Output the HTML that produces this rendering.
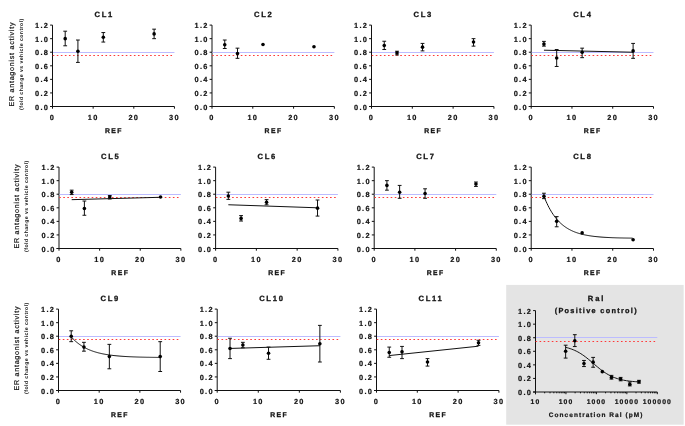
<!DOCTYPE html>
<html><head><meta charset="utf-8"><title>ER antagonist activity</title><style>html,body{margin:0;padding:0;background:#fff;width:685px;height:426px;overflow:hidden}svg{display:block}</style></head><body>
<svg width="685" height="426" viewBox="0 0 685 426">
<style>text{text-rendering:geometricPrecision}.t{font-family:"Liberation Sans",sans-serif;font-weight:bold;font-size:7.4px;letter-spacing:1.3px;fill:#111;stroke:#111;stroke-width:0.2px}.ti{font-family:"Liberation Sans",sans-serif;font-weight:bold;font-size:7.6px;letter-spacing:1.7px;fill:#111;stroke:#111;stroke-width:0.3px}.yl{font-family:"Liberation Sans",sans-serif;font-size:7.1px;letter-spacing:0.75px;fill:#111;stroke:#111;stroke-width:0.2px}.ys{font-family:"Liberation Sans",sans-serif;font-weight:bold;font-size:5.2px;letter-spacing:0.43px;fill:#111}</style>
<rect x="0" y="0" width="685" height="426" fill="#fff"/>
<rect x="506.2" y="284.9" width="177.45" height="139.8" fill="#e4e4e4"/>
<g stroke="#111" stroke-width="1" fill="none">
<line x1="52.5" y1="25.1" x2="52.5" y2="108.7"/>
<line x1="50.1" y1="106.5" x2="174.45" y2="106.5"/>
<line x1="93.15" y1="106.5" x2="93.15" y2="108.7"/>
<line x1="133.8" y1="106.5" x2="133.8" y2="108.7"/>
<line x1="174.45" y1="106.5" x2="174.45" y2="108.7"/>
<line x1="50.1" y1="106.5" x2="52.5" y2="106.5"/>
<line x1="50.1" y1="92.93" x2="52.5" y2="92.93"/>
<line x1="50.1" y1="79.37" x2="52.5" y2="79.37"/>
<line x1="50.1" y1="65.8" x2="52.5" y2="65.8"/>
<line x1="50.1" y1="52.23" x2="52.5" y2="52.23"/>
<line x1="50.1" y1="38.67" x2="52.5" y2="38.67"/>
<line x1="50.1" y1="25.1" x2="52.5" y2="25.1"/>
</g>
<line x1="53" y1="52.5" x2="174.45" y2="52.5" stroke="#bcbcff" stroke-width="1"/>
<line x1="52.7" y1="55.5" x2="174.45" y2="55.5" stroke="#ff3838" stroke-width="1.2" stroke-dasharray="1.6 2.46"/>
<g stroke="#111" stroke-width="1"><line x1="65.2" y1="31.2" x2="65.2" y2="45.79"/><line x1="63.3" y1="31.2" x2="67.1" y2="31.2"/><line x1="63.3" y1="45.79" x2="67.1" y2="45.79"/></g>
<circle cx="65.2" cy="38.67" r="1.8" fill="#000"/>
<g stroke="#111" stroke-width="1"><line x1="77.91" y1="40.02" x2="77.91" y2="62.41"/><line x1="76.01" y1="40.02" x2="79.81" y2="40.02"/><line x1="76.01" y1="62.41" x2="79.81" y2="62.41"/></g>
<circle cx="77.91" cy="51.22" r="1.8" fill="#000"/>
<g stroke="#111" stroke-width="1"><line x1="103.31" y1="32.56" x2="103.31" y2="42.06"/><line x1="101.41" y1="32.56" x2="105.21" y2="32.56"/><line x1="101.41" y1="42.06" x2="105.21" y2="42.06"/></g>
<circle cx="103.31" cy="37.31" r="1.8" fill="#000"/>
<g stroke="#111" stroke-width="1"><line x1="154.12" y1="29.17" x2="154.12" y2="38.67"/><line x1="152.22" y1="29.17" x2="156.03" y2="29.17"/><line x1="152.22" y1="38.67" x2="156.03" y2="38.67"/></g>
<circle cx="154.12" cy="33.92" r="1.8" fill="#000"/>
<g stroke="#111" stroke-width="1" fill="none">
<line x1="212" y1="25.1" x2="212" y2="108.7"/>
<line x1="209.6" y1="106.5" x2="334.37" y2="106.5"/>
<line x1="252.79" y1="106.5" x2="252.79" y2="108.7"/>
<line x1="293.58" y1="106.5" x2="293.58" y2="108.7"/>
<line x1="334.37" y1="106.5" x2="334.37" y2="108.7"/>
<line x1="209.6" y1="106.5" x2="212" y2="106.5"/>
<line x1="209.6" y1="92.93" x2="212" y2="92.93"/>
<line x1="209.6" y1="79.37" x2="212" y2="79.37"/>
<line x1="209.6" y1="65.8" x2="212" y2="65.8"/>
<line x1="209.6" y1="52.23" x2="212" y2="52.23"/>
<line x1="209.6" y1="38.67" x2="212" y2="38.67"/>
<line x1="209.6" y1="25.1" x2="212" y2="25.1"/>
</g>
<line x1="212.5" y1="52.5" x2="334.37" y2="52.5" stroke="#bcbcff" stroke-width="1"/>
<line x1="212.2" y1="55.5" x2="334.37" y2="55.5" stroke="#ff3838" stroke-width="1.2" stroke-dasharray="1.6 2.48"/>
<g stroke="#111" stroke-width="1"><line x1="224.75" y1="40.02" x2="224.75" y2="48.5"/><line x1="222.85" y1="40.02" x2="226.65" y2="40.02"/><line x1="222.85" y1="48.5" x2="226.65" y2="48.5"/></g>
<circle cx="224.75" cy="44.77" r="1.8" fill="#000"/>
<g stroke="#111" stroke-width="1"><line x1="237.49" y1="48.16" x2="237.49" y2="58.34"/><line x1="235.59" y1="48.16" x2="239.39" y2="48.16"/><line x1="235.59" y1="58.34" x2="239.39" y2="58.34"/></g>
<circle cx="237.49" cy="53.59" r="1.8" fill="#000"/>
<circle cx="262.99" cy="44.43" r="1.8" fill="#000"/>
<circle cx="313.98" cy="46.81" r="1.8" fill="#000"/>
<g stroke="#111" stroke-width="1" fill="none">
<line x1="371.5" y1="25.1" x2="371.5" y2="108.7"/>
<line x1="369.1" y1="106.5" x2="493.93" y2="106.5"/>
<line x1="412.31" y1="106.5" x2="412.31" y2="108.7"/>
<line x1="453.12" y1="106.5" x2="453.12" y2="108.7"/>
<line x1="493.93" y1="106.5" x2="493.93" y2="108.7"/>
<line x1="369.1" y1="106.5" x2="371.5" y2="106.5"/>
<line x1="369.1" y1="92.93" x2="371.5" y2="92.93"/>
<line x1="369.1" y1="79.37" x2="371.5" y2="79.37"/>
<line x1="369.1" y1="65.8" x2="371.5" y2="65.8"/>
<line x1="369.1" y1="52.23" x2="371.5" y2="52.23"/>
<line x1="369.1" y1="38.67" x2="371.5" y2="38.67"/>
<line x1="369.1" y1="25.1" x2="371.5" y2="25.1"/>
</g>
<line x1="372" y1="52.5" x2="493.93" y2="52.5" stroke="#bcbcff" stroke-width="1"/>
<line x1="371.7" y1="55.5" x2="493.93" y2="55.5" stroke="#ff3838" stroke-width="1.2" stroke-dasharray="1.6 2.48"/>
<g stroke="#111" stroke-width="1"><line x1="384.25" y1="41.24" x2="384.25" y2="49.52"/><line x1="382.35" y1="41.24" x2="386.15" y2="41.24"/><line x1="382.35" y1="49.52" x2="386.15" y2="49.52"/></g>
<circle cx="384.25" cy="45.45" r="1.8" fill="#000"/>
<g stroke="#111" stroke-width="1"><line x1="397.01" y1="51.22" x2="397.01" y2="54.95"/><line x1="395.11" y1="51.22" x2="398.91" y2="51.22"/><line x1="395.11" y1="54.95" x2="398.91" y2="54.95"/></g>
<circle cx="397.01" cy="52.91" r="1.8" fill="#000"/>
<g stroke="#111" stroke-width="1"><line x1="422.51" y1="43.41" x2="422.51" y2="50.88"/><line x1="420.61" y1="43.41" x2="424.41" y2="43.41"/><line x1="420.61" y1="50.88" x2="424.41" y2="50.88"/></g>
<circle cx="422.51" cy="47.15" r="1.8" fill="#000"/>
<g stroke="#111" stroke-width="1"><line x1="473.52" y1="38.67" x2="473.52" y2="46.13"/><line x1="471.62" y1="38.67" x2="475.42" y2="38.67"/><line x1="471.62" y1="46.13" x2="475.42" y2="46.13"/></g>
<circle cx="473.52" cy="42.06" r="1.8" fill="#000"/>
<g stroke="#111" stroke-width="1" fill="none">
<line x1="531.2" y1="25.1" x2="531.2" y2="108.7"/>
<line x1="528.8" y1="106.5" x2="653.49" y2="106.5"/>
<line x1="571.96" y1="106.5" x2="571.96" y2="108.7"/>
<line x1="612.73" y1="106.5" x2="612.73" y2="108.7"/>
<line x1="653.49" y1="106.5" x2="653.49" y2="108.7"/>
<line x1="528.8" y1="106.5" x2="531.2" y2="106.5"/>
<line x1="528.8" y1="92.93" x2="531.2" y2="92.93"/>
<line x1="528.8" y1="79.37" x2="531.2" y2="79.37"/>
<line x1="528.8" y1="65.8" x2="531.2" y2="65.8"/>
<line x1="528.8" y1="52.23" x2="531.2" y2="52.23"/>
<line x1="528.8" y1="38.67" x2="531.2" y2="38.67"/>
<line x1="528.8" y1="25.1" x2="531.2" y2="25.1"/>
</g>
<line x1="531.7" y1="52.5" x2="653.49" y2="52.5" stroke="#bcbcff" stroke-width="1"/>
<line x1="531.4" y1="55.5" x2="653.49" y2="55.5" stroke="#ff3838" stroke-width="1.2" stroke-dasharray="1.6 2.48"/>
<line x1="543.94" y1="50.2" x2="633.11" y2="52.23" stroke="#111" stroke-width="1"/>
<g stroke="#111" stroke-width="1"><line x1="543.94" y1="41.38" x2="543.94" y2="46.13"/><line x1="542.04" y1="41.38" x2="545.84" y2="41.38"/><line x1="542.04" y1="46.13" x2="545.84" y2="46.13"/></g>
<circle cx="543.94" cy="44.09" r="1.8" fill="#000"/>
<g stroke="#111" stroke-width="1"><line x1="556.68" y1="49.52" x2="556.68" y2="66.48"/><line x1="554.78" y1="49.52" x2="558.58" y2="49.52"/><line x1="554.78" y1="66.48" x2="558.58" y2="66.48"/></g>
<circle cx="556.68" cy="58" r="1.8" fill="#000"/>
<g stroke="#111" stroke-width="1"><line x1="582.15" y1="48.16" x2="582.15" y2="57.66"/><line x1="580.25" y1="48.16" x2="584.05" y2="48.16"/><line x1="580.25" y1="57.66" x2="584.05" y2="57.66"/></g>
<circle cx="582.15" cy="52.23" r="1.8" fill="#000"/>
<g stroke="#111" stroke-width="1"><line x1="633.11" y1="43.41" x2="633.11" y2="58.34"/><line x1="631.21" y1="43.41" x2="635.01" y2="43.41"/><line x1="631.21" y1="58.34" x2="635.01" y2="58.34"/></g>
<circle cx="633.11" cy="50.88" r="1.8" fill="#000"/>
<g stroke="#111" stroke-width="1" fill="none">
<line x1="59" y1="167.1" x2="59" y2="250.7"/>
<line x1="56.6" y1="248.5" x2="180.86" y2="248.5"/>
<line x1="99.62" y1="248.5" x2="99.62" y2="250.7"/>
<line x1="140.24" y1="248.5" x2="140.24" y2="250.7"/>
<line x1="180.86" y1="248.5" x2="180.86" y2="250.7"/>
<line x1="56.6" y1="248.5" x2="59" y2="248.5"/>
<line x1="56.6" y1="234.93" x2="59" y2="234.93"/>
<line x1="56.6" y1="221.37" x2="59" y2="221.37"/>
<line x1="56.6" y1="207.8" x2="59" y2="207.8"/>
<line x1="56.6" y1="194.23" x2="59" y2="194.23"/>
<line x1="56.6" y1="180.67" x2="59" y2="180.67"/>
<line x1="56.6" y1="167.1" x2="59" y2="167.1"/>
</g>
<line x1="59.5" y1="194.5" x2="180.86" y2="194.5" stroke="#bcbcff" stroke-width="1"/>
<line x1="59.2" y1="197.5" x2="180.86" y2="197.5" stroke="#ff3838" stroke-width="1.2" stroke-dasharray="1.6 2.46"/>
<line x1="71.69" y1="199.66" x2="160.55" y2="197.29" stroke="#111" stroke-width="1"/>
<g stroke="#111" stroke-width="1"><line x1="71.69" y1="190.16" x2="71.69" y2="194.57"/><line x1="69.79" y1="190.16" x2="73.59" y2="190.16"/><line x1="69.79" y1="194.57" x2="73.59" y2="194.57"/></g>
<circle cx="71.69" cy="192.2" r="1.8" fill="#000"/>
<g stroke="#111" stroke-width="1"><line x1="84.39" y1="201.02" x2="84.39" y2="215.26"/><line x1="82.49" y1="201.02" x2="86.29" y2="201.02"/><line x1="82.49" y1="215.26" x2="86.29" y2="215.26"/></g>
<circle cx="84.39" cy="208.48" r="1.8" fill="#000"/>
<g stroke="#111" stroke-width="1"><line x1="109.78" y1="195.59" x2="109.78" y2="198.98"/><line x1="107.88" y1="195.59" x2="111.68" y2="195.59"/><line x1="107.88" y1="198.98" x2="111.68" y2="198.98"/></g>
<circle cx="109.78" cy="196.95" r="1.8" fill="#000"/>
<circle cx="160.55" cy="196.95" r="1.8" fill="#000"/>
<g stroke="#111" stroke-width="1" fill="none">
<line x1="215.6" y1="167.1" x2="215.6" y2="250.7"/>
<line x1="213.2" y1="248.5" x2="337.92" y2="248.5"/>
<line x1="256.37" y1="248.5" x2="256.37" y2="250.7"/>
<line x1="297.15" y1="248.5" x2="297.15" y2="250.7"/>
<line x1="337.92" y1="248.5" x2="337.92" y2="250.7"/>
<line x1="213.2" y1="248.5" x2="215.6" y2="248.5"/>
<line x1="213.2" y1="234.93" x2="215.6" y2="234.93"/>
<line x1="213.2" y1="221.37" x2="215.6" y2="221.37"/>
<line x1="213.2" y1="207.8" x2="215.6" y2="207.8"/>
<line x1="213.2" y1="194.23" x2="215.6" y2="194.23"/>
<line x1="213.2" y1="180.67" x2="215.6" y2="180.67"/>
<line x1="213.2" y1="167.1" x2="215.6" y2="167.1"/>
</g>
<line x1="216.1" y1="194.5" x2="337.92" y2="194.5" stroke="#bcbcff" stroke-width="1"/>
<line x1="215.8" y1="197.5" x2="337.92" y2="197.5" stroke="#ff3838" stroke-width="1.2" stroke-dasharray="1.6 2.48"/>
<line x1="228.34" y1="204.75" x2="317.53" y2="207.8" stroke="#111" stroke-width="1"/>
<g stroke="#111" stroke-width="1"><line x1="228.34" y1="192.2" x2="228.34" y2="199.39"/><line x1="226.44" y1="192.2" x2="230.24" y2="192.2"/><line x1="226.44" y1="199.39" x2="230.24" y2="199.39"/></g>
<circle cx="228.34" cy="195.93" r="1.8" fill="#000"/>
<g stroke="#111" stroke-width="1"><line x1="241.08" y1="215.6" x2="241.08" y2="221.03"/><line x1="239.18" y1="215.6" x2="242.98" y2="215.6"/><line x1="239.18" y1="221.03" x2="242.98" y2="221.03"/></g>
<circle cx="241.08" cy="218.38" r="1.8" fill="#000"/>
<g stroke="#111" stroke-width="1"><line x1="266.57" y1="199.66" x2="266.57" y2="204.75"/><line x1="264.67" y1="199.66" x2="268.47" y2="199.66"/><line x1="264.67" y1="204.75" x2="268.47" y2="204.75"/></g>
<circle cx="266.57" cy="202.37" r="1.8" fill="#000"/>
<g stroke="#111" stroke-width="1"><line x1="317.53" y1="200" x2="317.53" y2="216.08"/><line x1="315.63" y1="200" x2="319.43" y2="200"/><line x1="315.63" y1="216.08" x2="319.43" y2="216.08"/></g>
<circle cx="317.53" cy="208.14" r="1.8" fill="#000"/>
<g stroke="#111" stroke-width="1" fill="none">
<line x1="374.2" y1="167.1" x2="374.2" y2="250.7"/>
<line x1="371.8" y1="248.5" x2="496.29" y2="248.5"/>
<line x1="414.9" y1="248.5" x2="414.9" y2="250.7"/>
<line x1="455.59" y1="248.5" x2="455.59" y2="250.7"/>
<line x1="496.29" y1="248.5" x2="496.29" y2="250.7"/>
<line x1="371.8" y1="248.5" x2="374.2" y2="248.5"/>
<line x1="371.8" y1="234.93" x2="374.2" y2="234.93"/>
<line x1="371.8" y1="221.37" x2="374.2" y2="221.37"/>
<line x1="371.8" y1="207.8" x2="374.2" y2="207.8"/>
<line x1="371.8" y1="194.23" x2="374.2" y2="194.23"/>
<line x1="371.8" y1="180.67" x2="374.2" y2="180.67"/>
<line x1="371.8" y1="167.1" x2="374.2" y2="167.1"/>
</g>
<line x1="374.7" y1="194.5" x2="496.29" y2="194.5" stroke="#bcbcff" stroke-width="1"/>
<line x1="374.4" y1="197.5" x2="496.29" y2="197.5" stroke="#ff3838" stroke-width="1.2" stroke-dasharray="1.6 2.47"/>
<g stroke="#111" stroke-width="1"><line x1="386.92" y1="180.67" x2="386.92" y2="190.16"/><line x1="385.02" y1="180.67" x2="388.82" y2="180.67"/><line x1="385.02" y1="190.16" x2="388.82" y2="190.16"/></g>
<circle cx="386.92" cy="185.41" r="1.8" fill="#000"/>
<g stroke="#111" stroke-width="1"><line x1="399.64" y1="185.41" x2="399.64" y2="198.3"/><line x1="397.74" y1="185.41" x2="401.54" y2="185.41"/><line x1="397.74" y1="198.3" x2="401.54" y2="198.3"/></g>
<circle cx="399.64" cy="192.2" r="1.8" fill="#000"/>
<g stroke="#111" stroke-width="1"><line x1="425.07" y1="188.81" x2="425.07" y2="198.3"/><line x1="423.17" y1="188.81" x2="426.97" y2="188.81"/><line x1="423.17" y1="198.3" x2="426.97" y2="198.3"/></g>
<circle cx="425.07" cy="193.55" r="1.8" fill="#000"/>
<g stroke="#111" stroke-width="1"><line x1="475.94" y1="182.02" x2="475.94" y2="186.43"/><line x1="474.04" y1="182.02" x2="477.84" y2="182.02"/><line x1="474.04" y1="186.43" x2="477.84" y2="186.43"/></g>
<circle cx="475.94" cy="184.06" r="1.8" fill="#000"/>
<g stroke="#111" stroke-width="1" fill="none">
<line x1="531.2" y1="167.1" x2="531.2" y2="250.7"/>
<line x1="528.8" y1="248.5" x2="653.49" y2="248.5"/>
<line x1="571.96" y1="248.5" x2="571.96" y2="250.7"/>
<line x1="612.73" y1="248.5" x2="612.73" y2="250.7"/>
<line x1="653.49" y1="248.5" x2="653.49" y2="250.7"/>
<line x1="528.8" y1="248.5" x2="531.2" y2="248.5"/>
<line x1="528.8" y1="234.93" x2="531.2" y2="234.93"/>
<line x1="528.8" y1="221.37" x2="531.2" y2="221.37"/>
<line x1="528.8" y1="207.8" x2="531.2" y2="207.8"/>
<line x1="528.8" y1="194.23" x2="531.2" y2="194.23"/>
<line x1="528.8" y1="180.67" x2="531.2" y2="180.67"/>
<line x1="528.8" y1="167.1" x2="531.2" y2="167.1"/>
</g>
<line x1="531.7" y1="194.5" x2="653.49" y2="194.5" stroke="#bcbcff" stroke-width="1"/>
<line x1="531.4" y1="197.5" x2="653.49" y2="197.5" stroke="#ff3838" stroke-width="1.2" stroke-dasharray="1.6 2.48"/>
<polyline points="543.94,196.27 544.96,198.82 545.98,201.21 547,203.46 548.01,205.57 549.03,207.56 550.05,209.42 551.07,211.17 552.09,212.82 553.11,214.36 554.13,215.81 555.15,217.18 556.17,218.46 557.19,219.66 558.21,220.79 559.22,221.86 560.24,222.85 561.26,223.79 562.28,224.67 563.3,225.5 564.32,226.28 565.34,227.01 566.36,227.69 567.38,228.34 568.4,228.94 569.42,229.51 570.43,230.04 571.45,230.55 572.47,231.02 573.49,231.46 574.51,231.88 575.53,232.27 576.55,232.63 577.57,232.98 578.59,233.3 579.61,233.61 580.63,233.89 581.64,234.16 582.66,234.41 583.68,234.65 584.7,234.87 585.72,235.08 586.74,235.28 587.76,235.46 588.78,235.64 589.8,235.8 590.82,235.95 591.84,236.1 592.85,236.23 593.87,236.36 594.89,236.48 595.91,236.59 596.93,236.69 597.95,236.79 598.97,236.89 599.99,236.97 601.01,237.05 602.03,237.13 603.05,237.2 604.06,237.27 605.08,237.34 606.1,237.4 607.12,237.45 608.14,237.51 609.16,237.55 610.18,237.6 611.2,237.65 612.22,237.69 613.24,237.73 614.26,237.76 615.27,237.8 616.29,237.83 617.31,237.86 618.33,237.89 619.35,237.91 620.37,237.94 621.39,237.96 622.41,237.98 623.43,238 624.45,238.02 625.47,238.04 626.48,238.06 627.5,238.07 628.52,238.09 629.54,238.1 630.56,238.12 631.58,238.13 632.6,238.14" fill="none" stroke="#111" stroke-width="1"/>
<g stroke="#111" stroke-width="1"><line x1="543.94" y1="193.22" x2="543.94" y2="198.64"/><line x1="542.04" y1="193.22" x2="545.84" y2="193.22"/><line x1="542.04" y1="198.64" x2="545.84" y2="198.64"/></g>
<circle cx="543.94" cy="196.27" r="1.8" fill="#000"/>
<g stroke="#111" stroke-width="1"><line x1="556.68" y1="216.62" x2="556.68" y2="226.79"/><line x1="554.78" y1="216.62" x2="558.58" y2="216.62"/><line x1="554.78" y1="226.79" x2="558.58" y2="226.79"/></g>
<circle cx="556.68" cy="221.37" r="1.8" fill="#000"/>
<circle cx="582.15" cy="232.9" r="1.8" fill="#000"/>
<circle cx="633.11" cy="239.68" r="1.8" fill="#000"/>
<g stroke="#111" stroke-width="1" fill="none">
<line x1="58.5" y1="309.1" x2="58.5" y2="392.7"/>
<line x1="56.1" y1="390.5" x2="180.55" y2="390.5"/>
<line x1="99.18" y1="390.5" x2="99.18" y2="392.7"/>
<line x1="139.87" y1="390.5" x2="139.87" y2="392.7"/>
<line x1="180.55" y1="390.5" x2="180.55" y2="392.7"/>
<line x1="56.1" y1="390.5" x2="58.5" y2="390.5"/>
<line x1="56.1" y1="376.93" x2="58.5" y2="376.93"/>
<line x1="56.1" y1="363.37" x2="58.5" y2="363.37"/>
<line x1="56.1" y1="349.8" x2="58.5" y2="349.8"/>
<line x1="56.1" y1="336.23" x2="58.5" y2="336.23"/>
<line x1="56.1" y1="322.67" x2="58.5" y2="322.67"/>
<line x1="56.1" y1="309.1" x2="58.5" y2="309.1"/>
</g>
<line x1="59" y1="336.5" x2="180.55" y2="336.5" stroke="#bcbcff" stroke-width="1"/>
<line x1="58.7" y1="339.5" x2="180.55" y2="339.5" stroke="#ff3838" stroke-width="1.2" stroke-dasharray="1.6 2.47"/>
<polyline points="71.21,336.91 72.23,338.02 73.25,339.07 74.26,340.06 75.28,341 76.3,341.89 77.32,342.73 78.33,343.52 79.35,344.28 80.37,344.99 81.38,345.66 82.4,346.3 83.42,346.91 84.44,347.48 85.45,348.02 86.47,348.53 87.49,349.02 88.5,349.48 89.52,349.91 90.54,350.32 91.56,350.71 92.57,351.08 93.59,351.43 94.61,351.76 95.62,352.07 96.64,352.37 97.66,352.65 98.67,352.91 99.69,353.17 100.71,353.4 101.73,353.63 102.74,353.84 103.76,354.04 104.78,354.23 105.79,354.41 106.81,354.58 107.83,354.74 108.85,354.9 109.86,355.04 110.88,355.18 111.9,355.31 112.91,355.43 113.93,355.55 114.95,355.66 115.97,355.76 116.98,355.86 118,355.95 119.02,356.04 120.03,356.12 121.05,356.2 122.07,356.28 123.08,356.35 124.1,356.42 125.12,356.48 126.14,356.54 127.15,356.6 128.17,356.65 129.19,356.7 130.2,356.75 131.22,356.79 132.24,356.84 133.26,356.88 134.27,356.92 135.29,356.95 136.31,356.99 137.32,357.02 138.34,357.05 139.36,357.08 140.38,357.11 141.39,357.14 142.41,357.16 143.43,357.18 144.44,357.21 145.46,357.23 146.48,357.25 147.49,357.27 148.51,357.28 149.53,357.3 150.55,357.32 151.56,357.33 152.58,357.35 153.6,357.36 154.61,357.37 155.63,357.39 156.65,357.4 157.67,357.41 158.68,357.42 159.7,357.43" fill="none" stroke="#111" stroke-width="1"/>
<g stroke="#111" stroke-width="1"><line x1="71.21" y1="330.81" x2="71.21" y2="341.66"/><line x1="69.31" y1="330.81" x2="73.11" y2="330.81"/><line x1="69.31" y1="341.66" x2="73.11" y2="341.66"/></g>
<circle cx="71.21" cy="336.23" r="1.8" fill="#000"/>
<g stroke="#111" stroke-width="1"><line x1="83.93" y1="342.34" x2="83.93" y2="351.16"/><line x1="82.03" y1="342.34" x2="85.83" y2="342.34"/><line x1="82.03" y1="351.16" x2="85.83" y2="351.16"/></g>
<circle cx="83.93" cy="347.09" r="1.8" fill="#000"/>
<g stroke="#111" stroke-width="1"><line x1="109.35" y1="344.37" x2="109.35" y2="368.79"/><line x1="107.45" y1="344.37" x2="111.25" y2="344.37"/><line x1="107.45" y1="368.79" x2="111.25" y2="368.79"/></g>
<circle cx="109.35" cy="356.58" r="1.8" fill="#000"/>
<g stroke="#111" stroke-width="1"><line x1="160.21" y1="341.66" x2="160.21" y2="371.51"/><line x1="158.31" y1="341.66" x2="162.11" y2="341.66"/><line x1="158.31" y1="371.51" x2="162.11" y2="371.51"/></g>
<circle cx="160.21" cy="356.58" r="1.8" fill="#000"/>
<g stroke="#111" stroke-width="1" fill="none">
<line x1="217.2" y1="309.1" x2="217.2" y2="392.7"/>
<line x1="214.8" y1="390.5" x2="340.4" y2="390.5"/>
<line x1="258.27" y1="390.5" x2="258.27" y2="392.7"/>
<line x1="299.33" y1="390.5" x2="299.33" y2="392.7"/>
<line x1="340.4" y1="390.5" x2="340.4" y2="392.7"/>
<line x1="214.8" y1="390.5" x2="217.2" y2="390.5"/>
<line x1="214.8" y1="376.93" x2="217.2" y2="376.93"/>
<line x1="214.8" y1="363.37" x2="217.2" y2="363.37"/>
<line x1="214.8" y1="349.8" x2="217.2" y2="349.8"/>
<line x1="214.8" y1="336.23" x2="217.2" y2="336.23"/>
<line x1="214.8" y1="322.67" x2="217.2" y2="322.67"/>
<line x1="214.8" y1="309.1" x2="217.2" y2="309.1"/>
</g>
<line x1="217.7" y1="336.5" x2="340.4" y2="336.5" stroke="#bcbcff" stroke-width="1"/>
<line x1="217.4" y1="339.5" x2="340.4" y2="339.5" stroke="#ff3838" stroke-width="1.2" stroke-dasharray="1.6 2.51"/>
<line x1="230.03" y1="348.44" x2="319.87" y2="345.73" stroke="#111" stroke-width="1"/>
<g stroke="#111" stroke-width="1"><line x1="230.03" y1="338.27" x2="230.03" y2="358.62"/><line x1="228.13" y1="338.27" x2="231.93" y2="338.27"/><line x1="228.13" y1="358.62" x2="231.93" y2="358.62"/></g>
<circle cx="230.03" cy="348.44" r="1.8" fill="#000"/>
<g stroke="#111" stroke-width="1"><line x1="242.87" y1="342.34" x2="242.87" y2="347.76"/><line x1="240.97" y1="342.34" x2="244.77" y2="342.34"/><line x1="240.97" y1="347.76" x2="244.77" y2="347.76"/></g>
<circle cx="242.87" cy="345.05" r="1.8" fill="#000"/>
<g stroke="#111" stroke-width="1"><line x1="268.53" y1="347.09" x2="268.53" y2="359.3"/><line x1="266.63" y1="347.09" x2="270.43" y2="347.09"/><line x1="266.63" y1="359.3" x2="270.43" y2="359.3"/></g>
<circle cx="268.53" cy="353.19" r="1.8" fill="#000"/>
<g stroke="#111" stroke-width="1"><line x1="319.87" y1="325.38" x2="319.87" y2="362.01"/><line x1="317.97" y1="325.38" x2="321.77" y2="325.38"/><line x1="317.97" y1="362.01" x2="321.77" y2="362.01"/></g>
<circle cx="319.87" cy="343.69" r="1.8" fill="#000"/>
<g stroke="#111" stroke-width="1" fill="none">
<line x1="376.5" y1="309.1" x2="376.5" y2="392.7"/>
<line x1="374.1" y1="390.5" x2="498.93" y2="390.5"/>
<line x1="417.31" y1="390.5" x2="417.31" y2="392.7"/>
<line x1="458.12" y1="390.5" x2="458.12" y2="392.7"/>
<line x1="498.93" y1="390.5" x2="498.93" y2="392.7"/>
<line x1="374.1" y1="390.5" x2="376.5" y2="390.5"/>
<line x1="374.1" y1="376.93" x2="376.5" y2="376.93"/>
<line x1="374.1" y1="363.37" x2="376.5" y2="363.37"/>
<line x1="374.1" y1="349.8" x2="376.5" y2="349.8"/>
<line x1="374.1" y1="336.23" x2="376.5" y2="336.23"/>
<line x1="374.1" y1="322.67" x2="376.5" y2="322.67"/>
<line x1="374.1" y1="309.1" x2="376.5" y2="309.1"/>
</g>
<line x1="377" y1="336.5" x2="498.93" y2="336.5" stroke="#bcbcff" stroke-width="1"/>
<line x1="376.7" y1="339.5" x2="498.93" y2="339.5" stroke="#ff3838" stroke-width="1.2" stroke-dasharray="1.6 2.48"/>
<line x1="389.25" y1="355.57" x2="478.52" y2="346.2" stroke="#111" stroke-width="1"/>
<g stroke="#111" stroke-width="1"><line x1="389.25" y1="347.09" x2="389.25" y2="357.26"/><line x1="387.35" y1="347.09" x2="391.15" y2="347.09"/><line x1="387.35" y1="357.26" x2="391.15" y2="357.26"/></g>
<circle cx="389.25" cy="352.51" r="1.8" fill="#000"/>
<g stroke="#111" stroke-width="1"><line x1="402.01" y1="346.41" x2="402.01" y2="358.62"/><line x1="400.11" y1="346.41" x2="403.91" y2="346.41"/><line x1="400.11" y1="358.62" x2="403.91" y2="358.62"/></g>
<circle cx="402.01" cy="351.83" r="1.8" fill="#000"/>
<g stroke="#111" stroke-width="1"><line x1="427.51" y1="358.62" x2="427.51" y2="366.08"/><line x1="425.61" y1="358.62" x2="429.41" y2="358.62"/><line x1="425.61" y1="366.08" x2="429.41" y2="366.08"/></g>
<circle cx="427.51" cy="362.01" r="1.8" fill="#000"/>
<g stroke="#111" stroke-width="1"><line x1="478.52" y1="340.3" x2="478.52" y2="345.39"/><line x1="476.62" y1="340.3" x2="480.42" y2="340.3"/><line x1="476.62" y1="345.39" x2="480.42" y2="345.39"/></g>
<circle cx="478.52" cy="342.68" r="1.8" fill="#000"/>
<g stroke="#111" stroke-width="1" fill="none">
<line x1="535.5" y1="310.6" x2="535.5" y2="394.2"/>
<line x1="533.1" y1="392" x2="657.3" y2="392"/>
<line x1="533.1" y1="392" x2="535.5" y2="392"/>
<line x1="533.1" y1="378.43" x2="535.5" y2="378.43"/>
<line x1="533.1" y1="364.87" x2="535.5" y2="364.87"/>
<line x1="533.1" y1="351.3" x2="535.5" y2="351.3"/>
<line x1="533.1" y1="337.73" x2="535.5" y2="337.73"/>
<line x1="533.1" y1="324.17" x2="535.5" y2="324.17"/>
<line x1="533.1" y1="310.6" x2="535.5" y2="310.6"/>
<line x1="535.5" y1="392" x2="535.5" y2="394.2"/>
<line x1="544.67" y1="392" x2="544.67" y2="393.3"/>
<line x1="550.03" y1="392" x2="550.03" y2="393.3"/>
<line x1="553.83" y1="392" x2="553.83" y2="393.3"/>
<line x1="556.78" y1="392" x2="556.78" y2="393.3"/>
<line x1="559.19" y1="392" x2="559.19" y2="393.3"/>
<line x1="561.23" y1="392" x2="561.23" y2="393.3"/>
<line x1="563" y1="392" x2="563" y2="393.3"/>
<line x1="564.56" y1="392" x2="564.56" y2="393.3"/>
<line x1="565.95" y1="392" x2="565.95" y2="394.2"/>
<line x1="575.12" y1="392" x2="575.12" y2="393.3"/>
<line x1="580.48" y1="392" x2="580.48" y2="393.3"/>
<line x1="584.28" y1="392" x2="584.28" y2="393.3"/>
<line x1="587.23" y1="392" x2="587.23" y2="393.3"/>
<line x1="589.64" y1="392" x2="589.64" y2="393.3"/>
<line x1="591.68" y1="392" x2="591.68" y2="393.3"/>
<line x1="593.45" y1="392" x2="593.45" y2="393.3"/>
<line x1="595.01" y1="392" x2="595.01" y2="393.3"/>
<line x1="596.4" y1="392" x2="596.4" y2="394.2"/>
<line x1="605.57" y1="392" x2="605.57" y2="393.3"/>
<line x1="610.93" y1="392" x2="610.93" y2="393.3"/>
<line x1="614.73" y1="392" x2="614.73" y2="393.3"/>
<line x1="617.68" y1="392" x2="617.68" y2="393.3"/>
<line x1="620.09" y1="392" x2="620.09" y2="393.3"/>
<line x1="622.13" y1="392" x2="622.13" y2="393.3"/>
<line x1="623.9" y1="392" x2="623.9" y2="393.3"/>
<line x1="625.46" y1="392" x2="625.46" y2="393.3"/>
<line x1="626.85" y1="392" x2="626.85" y2="394.2"/>
<line x1="636.02" y1="392" x2="636.02" y2="393.3"/>
<line x1="641.38" y1="392" x2="641.38" y2="393.3"/>
<line x1="645.18" y1="392" x2="645.18" y2="393.3"/>
<line x1="648.13" y1="392" x2="648.13" y2="393.3"/>
<line x1="650.54" y1="392" x2="650.54" y2="393.3"/>
<line x1="652.58" y1="392" x2="652.58" y2="393.3"/>
<line x1="654.35" y1="392" x2="654.35" y2="393.3"/>
<line x1="655.91" y1="392" x2="655.91" y2="393.3"/>
<line x1="657.3" y1="392" x2="657.3" y2="394.2"/>
</g>
<line x1="536" y1="337.5" x2="657.3" y2="337.5" stroke="#bcbcff" stroke-width="1"/>
<line x1="535.5" y1="341.5" x2="657.3" y2="341.5" stroke="#ff3838" stroke-width="1.2" stroke-dasharray="1.6 2.47"/>
<polyline points="565.64,347.34 567.16,347.72 568.68,348.15 570.2,348.63 571.73,349.16 573.25,349.75 574.77,350.41 576.29,351.13 577.82,351.92 579.34,352.78 580.86,353.71 582.38,354.7 583.91,355.76 585.43,356.89 586.95,358.07 588.47,359.29 590,360.56 591.52,361.85 593.04,363.16 594.56,364.47 596.09,365.77 597.61,367.05 599.13,368.3 600.65,369.51 602.18,370.66 603.7,371.76 605.22,372.79 606.74,373.75 608.27,374.65 609.79,375.48 611.31,376.23 612.83,376.92 614.36,377.55 615.88,378.11 617.4,378.62 618.92,379.08 620.45,379.49 621.97,379.85 623.49,380.17 625.01,380.45 626.54,380.71 628.06,380.93 629.58,381.12 631.1,381.3 632.63,381.45 634.15,381.58 635.67,381.7 637.19,381.8 638.72,381.89" fill="none" stroke="#111" stroke-width="1"/>
<g stroke="#111" stroke-width="1"><line x1="565.64" y1="345.19" x2="565.64" y2="358.08"/><line x1="563.74" y1="345.19" x2="567.54" y2="345.19"/><line x1="563.74" y1="358.08" x2="567.54" y2="358.08"/></g>
<circle cx="565.64" cy="351.3" r="1.8" fill="#000"/>
<g stroke="#111" stroke-width="1"><line x1="574.8" y1="334.68" x2="574.8" y2="346.55"/><line x1="572.9" y1="334.68" x2="576.7" y2="334.68"/><line x1="572.9" y1="346.55" x2="576.7" y2="346.55"/></g>
<circle cx="574.8" cy="340.79" r="1.8" fill="#000"/>
<g stroke="#111" stroke-width="1"><line x1="583.97" y1="360.46" x2="583.97" y2="366.56"/><line x1="582.07" y1="360.46" x2="585.87" y2="360.46"/><line x1="582.07" y1="366.56" x2="585.87" y2="366.56"/></g>
<circle cx="583.97" cy="363.51" r="1.8" fill="#000"/>
<g stroke="#111" stroke-width="1"><line x1="593.14" y1="357.4" x2="593.14" y2="367.24"/><line x1="591.24" y1="357.4" x2="595.04" y2="357.4"/><line x1="591.24" y1="367.24" x2="595.04" y2="367.24"/></g>
<circle cx="593.14" cy="362.15" r="1.8" fill="#000"/>
<circle cx="602.3" cy="371.65" r="1.8" fill="#000"/>
<g stroke="#111" stroke-width="1"><line x1="611.47" y1="375.38" x2="611.47" y2="379.11"/><line x1="609.57" y1="375.38" x2="613.37" y2="375.38"/><line x1="609.57" y1="379.11" x2="613.37" y2="379.11"/></g>
<circle cx="611.47" cy="377.42" r="1.8" fill="#000"/>
<g stroke="#111" stroke-width="1"><line x1="620.63" y1="377.42" x2="620.63" y2="380.81"/><line x1="618.73" y1="377.42" x2="622.53" y2="377.42"/><line x1="618.73" y1="380.81" x2="622.53" y2="380.81"/></g>
<circle cx="620.63" cy="379.11" r="1.8" fill="#000"/>
<g stroke="#111" stroke-width="1"><line x1="629.8" y1="381.96" x2="629.8" y2="385.89"/><line x1="627.9" y1="381.96" x2="631.7" y2="381.96"/><line x1="627.9" y1="385.89" x2="631.7" y2="385.89"/></g>
<circle cx="629.8" cy="384.33" r="1.8" fill="#000"/>
<g stroke="#111" stroke-width="1"><line x1="638.97" y1="380.33" x2="638.97" y2="383.18"/><line x1="637.07" y1="380.33" x2="640.87" y2="380.33"/><line x1="637.07" y1="383.18" x2="640.87" y2="383.18"/></g>
<circle cx="638.97" cy="381.69" r="1.8" fill="#000"/>
<g style="opacity:0.99">
<text x="49.2" y="109.5" text-anchor="end" class="t">0.0</text>
<text x="49.2" y="95.93" text-anchor="end" class="t">0.2</text>
<text x="49.2" y="82.37" text-anchor="end" class="t">0.4</text>
<text x="49.2" y="68.8" text-anchor="end" class="t">0.6</text>
<text x="49.2" y="55.23" text-anchor="end" class="t">0.8</text>
<text x="49.2" y="41.67" text-anchor="end" class="t">1.0</text>
<text x="49.2" y="28.1" text-anchor="end" class="t">1.2</text>
<text x="52.55" y="119.6" text-anchor="middle" class="t">0</text>
<text x="93.2" y="119.6" text-anchor="middle" class="t">10</text>
<text x="133.85" y="119.6" text-anchor="middle" class="t">20</text>
<text x="174.5" y="119.6" text-anchor="middle" class="t">30</text>
<text x="113.87" y="132.9" text-anchor="middle" class="t" style="letter-spacing:1.45px;font-size:6.8px;stroke-width:0.3px">REF</text>
<text x="94.5" y="16.9" class="ti">CL1</text>
<text x="208.7" y="109.5" text-anchor="end" class="t">0.0</text>
<text x="208.7" y="95.93" text-anchor="end" class="t">0.2</text>
<text x="208.7" y="82.37" text-anchor="end" class="t">0.4</text>
<text x="208.7" y="68.8" text-anchor="end" class="t">0.6</text>
<text x="208.7" y="55.23" text-anchor="end" class="t">0.8</text>
<text x="208.7" y="41.67" text-anchor="end" class="t">1.0</text>
<text x="208.7" y="28.1" text-anchor="end" class="t">1.2</text>
<text x="212.05" y="119.6" text-anchor="middle" class="t">0</text>
<text x="252.84" y="119.6" text-anchor="middle" class="t">10</text>
<text x="293.63" y="119.6" text-anchor="middle" class="t">20</text>
<text x="334.42" y="119.6" text-anchor="middle" class="t">30</text>
<text x="273.59" y="132.9" text-anchor="middle" class="t" style="letter-spacing:1.45px;font-size:6.8px;stroke-width:0.3px">REF</text>
<text x="254" y="16.9" class="ti">CL2</text>
<text x="368.2" y="109.5" text-anchor="end" class="t">0.0</text>
<text x="368.2" y="95.93" text-anchor="end" class="t">0.2</text>
<text x="368.2" y="82.37" text-anchor="end" class="t">0.4</text>
<text x="368.2" y="68.8" text-anchor="end" class="t">0.6</text>
<text x="368.2" y="55.23" text-anchor="end" class="t">0.8</text>
<text x="368.2" y="41.67" text-anchor="end" class="t">1.0</text>
<text x="368.2" y="28.1" text-anchor="end" class="t">1.2</text>
<text x="371.55" y="119.6" text-anchor="middle" class="t">0</text>
<text x="412.36" y="119.6" text-anchor="middle" class="t">10</text>
<text x="453.17" y="119.6" text-anchor="middle" class="t">20</text>
<text x="493.98" y="119.6" text-anchor="middle" class="t">30</text>
<text x="433.12" y="132.9" text-anchor="middle" class="t" style="letter-spacing:1.45px;font-size:6.8px;stroke-width:0.3px">REF</text>
<text x="413.5" y="16.9" class="ti">CL3</text>
<text x="527.9" y="109.5" text-anchor="end" class="t">0.0</text>
<text x="527.9" y="95.93" text-anchor="end" class="t">0.2</text>
<text x="527.9" y="82.37" text-anchor="end" class="t">0.4</text>
<text x="527.9" y="68.8" text-anchor="end" class="t">0.6</text>
<text x="527.9" y="55.23" text-anchor="end" class="t">0.8</text>
<text x="527.9" y="41.67" text-anchor="end" class="t">1.0</text>
<text x="527.9" y="28.1" text-anchor="end" class="t">1.2</text>
<text x="531.25" y="119.6" text-anchor="middle" class="t">0</text>
<text x="572.01" y="119.6" text-anchor="middle" class="t">10</text>
<text x="612.78" y="119.6" text-anchor="middle" class="t">20</text>
<text x="653.54" y="119.6" text-anchor="middle" class="t">30</text>
<text x="592.75" y="132.9" text-anchor="middle" class="t" style="letter-spacing:1.45px;font-size:6.8px;stroke-width:0.3px">REF</text>
<text x="573.2" y="16.9" class="ti">CL4</text>
<text x="55.7" y="251.5" text-anchor="end" class="t">0.0</text>
<text x="55.7" y="237.93" text-anchor="end" class="t">0.2</text>
<text x="55.7" y="224.37" text-anchor="end" class="t">0.4</text>
<text x="55.7" y="210.8" text-anchor="end" class="t">0.6</text>
<text x="55.7" y="197.23" text-anchor="end" class="t">0.8</text>
<text x="55.7" y="183.67" text-anchor="end" class="t">1.0</text>
<text x="55.7" y="170.1" text-anchor="end" class="t">1.2</text>
<text x="59.05" y="261.6" text-anchor="middle" class="t">0</text>
<text x="99.67" y="261.6" text-anchor="middle" class="t">10</text>
<text x="140.29" y="261.6" text-anchor="middle" class="t">20</text>
<text x="180.91" y="261.6" text-anchor="middle" class="t">30</text>
<text x="120.33" y="274.9" text-anchor="middle" class="t" style="letter-spacing:1.45px;font-size:6.8px;stroke-width:0.3px">REF</text>
<text x="101" y="158.9" class="ti">CL5</text>
<text x="212.3" y="251.5" text-anchor="end" class="t">0.0</text>
<text x="212.3" y="237.93" text-anchor="end" class="t">0.2</text>
<text x="212.3" y="224.37" text-anchor="end" class="t">0.4</text>
<text x="212.3" y="210.8" text-anchor="end" class="t">0.6</text>
<text x="212.3" y="197.23" text-anchor="end" class="t">0.8</text>
<text x="212.3" y="183.67" text-anchor="end" class="t">1.0</text>
<text x="212.3" y="170.1" text-anchor="end" class="t">1.2</text>
<text x="215.65" y="261.6" text-anchor="middle" class="t">0</text>
<text x="256.42" y="261.6" text-anchor="middle" class="t">10</text>
<text x="297.2" y="261.6" text-anchor="middle" class="t">20</text>
<text x="337.97" y="261.6" text-anchor="middle" class="t">30</text>
<text x="277.16" y="274.9" text-anchor="middle" class="t" style="letter-spacing:1.45px;font-size:6.8px;stroke-width:0.3px">REF</text>
<text x="257.6" y="158.9" class="ti">CL6</text>
<text x="370.9" y="251.5" text-anchor="end" class="t">0.0</text>
<text x="370.9" y="237.93" text-anchor="end" class="t">0.2</text>
<text x="370.9" y="224.37" text-anchor="end" class="t">0.4</text>
<text x="370.9" y="210.8" text-anchor="end" class="t">0.6</text>
<text x="370.9" y="197.23" text-anchor="end" class="t">0.8</text>
<text x="370.9" y="183.67" text-anchor="end" class="t">1.0</text>
<text x="370.9" y="170.1" text-anchor="end" class="t">1.2</text>
<text x="374.25" y="261.6" text-anchor="middle" class="t">0</text>
<text x="414.95" y="261.6" text-anchor="middle" class="t">10</text>
<text x="455.64" y="261.6" text-anchor="middle" class="t">20</text>
<text x="496.34" y="261.6" text-anchor="middle" class="t">30</text>
<text x="435.65" y="274.9" text-anchor="middle" class="t" style="letter-spacing:1.45px;font-size:6.8px;stroke-width:0.3px">REF</text>
<text x="416.2" y="158.9" class="ti">CL7</text>
<text x="527.9" y="251.5" text-anchor="end" class="t">0.0</text>
<text x="527.9" y="237.93" text-anchor="end" class="t">0.2</text>
<text x="527.9" y="224.37" text-anchor="end" class="t">0.4</text>
<text x="527.9" y="210.8" text-anchor="end" class="t">0.6</text>
<text x="527.9" y="197.23" text-anchor="end" class="t">0.8</text>
<text x="527.9" y="183.67" text-anchor="end" class="t">1.0</text>
<text x="527.9" y="170.1" text-anchor="end" class="t">1.2</text>
<text x="531.25" y="261.6" text-anchor="middle" class="t">0</text>
<text x="572.01" y="261.6" text-anchor="middle" class="t">10</text>
<text x="612.78" y="261.6" text-anchor="middle" class="t">20</text>
<text x="653.54" y="261.6" text-anchor="middle" class="t">30</text>
<text x="592.75" y="274.9" text-anchor="middle" class="t" style="letter-spacing:1.45px;font-size:6.8px;stroke-width:0.3px">REF</text>
<text x="573.2" y="158.9" class="ti">CL8</text>
<text x="55.2" y="393.5" text-anchor="end" class="t">0.0</text>
<text x="55.2" y="379.93" text-anchor="end" class="t">0.2</text>
<text x="55.2" y="366.37" text-anchor="end" class="t">0.4</text>
<text x="55.2" y="352.8" text-anchor="end" class="t">0.6</text>
<text x="55.2" y="339.23" text-anchor="end" class="t">0.8</text>
<text x="55.2" y="325.67" text-anchor="end" class="t">1.0</text>
<text x="55.2" y="312.1" text-anchor="end" class="t">1.2</text>
<text x="58.55" y="403.6" text-anchor="middle" class="t">0</text>
<text x="99.23" y="403.6" text-anchor="middle" class="t">10</text>
<text x="139.92" y="403.6" text-anchor="middle" class="t">20</text>
<text x="180.6" y="403.6" text-anchor="middle" class="t">30</text>
<text x="119.92" y="416.9" text-anchor="middle" class="t" style="letter-spacing:1.45px;font-size:6.8px;stroke-width:0.3px">REF</text>
<text x="100.5" y="300.9" class="ti">CL9</text>
<text x="213.9" y="393.5" text-anchor="end" class="t">0.0</text>
<text x="213.9" y="379.93" text-anchor="end" class="t">0.2</text>
<text x="213.9" y="366.37" text-anchor="end" class="t">0.4</text>
<text x="213.9" y="352.8" text-anchor="end" class="t">0.6</text>
<text x="213.9" y="339.23" text-anchor="end" class="t">0.8</text>
<text x="213.9" y="325.67" text-anchor="end" class="t">1.0</text>
<text x="213.9" y="312.1" text-anchor="end" class="t">1.2</text>
<text x="217.25" y="403.6" text-anchor="middle" class="t">0</text>
<text x="258.32" y="403.6" text-anchor="middle" class="t">10</text>
<text x="299.38" y="403.6" text-anchor="middle" class="t">20</text>
<text x="340.45" y="403.6" text-anchor="middle" class="t">30</text>
<text x="279.2" y="416.9" text-anchor="middle" class="t" style="letter-spacing:1.45px;font-size:6.8px;stroke-width:0.3px">REF</text>
<text x="259.2" y="300.9" class="ti">CL10</text>
<text x="373.2" y="393.5" text-anchor="end" class="t">0.0</text>
<text x="373.2" y="379.93" text-anchor="end" class="t">0.2</text>
<text x="373.2" y="366.37" text-anchor="end" class="t">0.4</text>
<text x="373.2" y="352.8" text-anchor="end" class="t">0.6</text>
<text x="373.2" y="339.23" text-anchor="end" class="t">0.8</text>
<text x="373.2" y="325.67" text-anchor="end" class="t">1.0</text>
<text x="373.2" y="312.1" text-anchor="end" class="t">1.2</text>
<text x="376.55" y="403.6" text-anchor="middle" class="t">0</text>
<text x="417.36" y="403.6" text-anchor="middle" class="t">10</text>
<text x="458.17" y="403.6" text-anchor="middle" class="t">20</text>
<text x="498.98" y="403.6" text-anchor="middle" class="t">30</text>
<text x="438.12" y="416.9" text-anchor="middle" class="t" style="letter-spacing:1.45px;font-size:6.8px;stroke-width:0.3px">REF</text>
<text x="418.5" y="300.9" class="ti">CL11</text>
<text transform="translate(13.85,64.15) rotate(-90)" text-anchor="middle" class="yl">ER antagonist activity</text>
<text transform="translate(22.85,64.1) rotate(-90)" text-anchor="middle" class="ys">(fold change vs vehicle control)</text>
<text transform="translate(18.9,206.15) rotate(-90)" text-anchor="middle" class="yl">ER antagonist activity</text>
<text transform="translate(27.8,206.1) rotate(-90)" text-anchor="middle" class="ys">(fold change vs vehicle control)</text>
<text transform="translate(18.9,348.15) rotate(-90)" text-anchor="middle" class="yl">ER antagonist activity</text>
<text transform="translate(27.8,348.1) rotate(-90)" text-anchor="middle" class="ys">(fold change vs vehicle control)</text>
<text x="532.2" y="395" text-anchor="end" class="t">0.0</text>
<text x="532.2" y="381.43" text-anchor="end" class="t">0.2</text>
<text x="532.2" y="367.87" text-anchor="end" class="t">0.4</text>
<text x="532.2" y="354.3" text-anchor="end" class="t">0.6</text>
<text x="532.2" y="340.73" text-anchor="end" class="t">0.8</text>
<text x="532.2" y="327.17" text-anchor="end" class="t">1.0</text>
<text x="532.2" y="313.6" text-anchor="end" class="t">1.2</text>
<text x="535.5" y="403.5" text-anchor="middle" class="t" style="letter-spacing:1.1px;font-size:6.8px">10</text>
<text x="565.95" y="403.5" text-anchor="middle" class="t" style="letter-spacing:1.1px;font-size:6.8px">100</text>
<text x="596.4" y="403.5" text-anchor="middle" class="t" style="letter-spacing:1.1px;font-size:6.8px">1000</text>
<text x="626.85" y="403.5" text-anchor="middle" class="t" style="letter-spacing:1.1px;font-size:6.8px">10000</text>
<text x="657.3" y="403.5" text-anchor="middle" class="t" style="letter-spacing:1.1px;font-size:6.8px">100000</text>
<text x="595.55" y="416.6" text-anchor="middle" class="t" textLength="93.6" lengthAdjust="spacing" style="letter-spacing:0;font-size:6.5px">Concentration Ral (pM)</text>
<text x="595.65" y="300.6" text-anchor="middle" class="ti" textLength="15.6" lengthAdjust="spacing" style="letter-spacing:0">Ral</text>
<text x="595.65" y="313.1" text-anchor="middle" class="ti" textLength="82" lengthAdjust="spacing" style="letter-spacing:0;font-size:7.3px">(Positive control)</text>
</g>
</svg>
</body></html>
